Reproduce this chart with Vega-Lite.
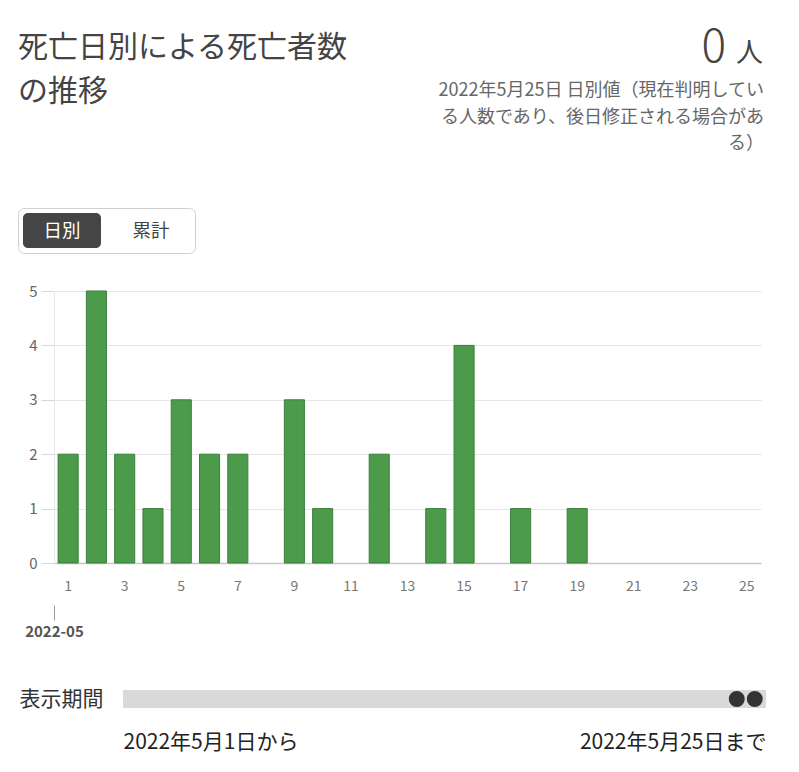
{
  "$schema": "https://vega.github.io/schema/vega-lite/v6.json",
  "background": "white",
  "padding": {"left": 17, "top": 0, "right": 0, "bottom": 20},
  "config": {"font": "Noto Sans CJK JP", "view": {"stroke": null}},
  "spacing": 30,
  "vconcat": [
    {
      "bounds": "flush",
      "spacing": 18,
      "vconcat": [
        {
          "width": 748,
          "height": 190,
          "data": {"values": [{"title": "死亡日別による死亡者数\nの推移", "count": 0, "unit": "人", "note": "2022年5月25日 日別値（現在判明してい\nる人数であり、後日修正される場合があ\nる）"}]},
          "layer": [
            {"mark": {"type": "text", "align": "left", "baseline": "alphabetic", "fontSize": 30, "color": "#444444", "lineBreak": "\n", "lineHeight": 44},
             "encoding": {"text": {"field": "title"}, "x": {"value": 0}, "y": {"value": 57}}},
            {"mark": {"type": "text", "align": "right", "baseline": "alphabetic", "fontSize": 46, "fontWeight": 300, "color": "#444444"},
             "encoding": {"text": {"field": "count"}, "x": {"value": 708}, "y": {"value": 62}}},
            {"mark": {"type": "text", "align": "right", "baseline": "alphabetic", "fontSize": 27, "color": "#444444"},
             "encoding": {"text": {"field": "unit"}, "x": {"value": 745}, "y": {"value": 62}}},
            {"mark": {"type": "text", "align": "right", "baseline": "alphabetic", "fontSize": 18, "color": "#666666", "lineBreak": "\n", "lineHeight": 26.5},
             "encoding": {"text": {"field": "note"}, "x": {"value": 746}, "y": {"value": 96}}}
          ]
        },
        {
          "width": 177,
          "height": 45,
          "view": {"stroke": "#cfcfcf", "strokeWidth": 1, "cornerRadius": 6},
          "data": {"values": [{"mode": "日別", "state": "on"}, {"mode": "累計", "state": "off"}]},
          "encoding": {"x": {"field": "mode", "type": "nominal", "sort": ["日別", "累計"], "scale": {"paddingInner": 0.124, "paddingOuter": 0.056}, "axis": null}},
          "layer": [
            {"transform": [{"filter": "datum.state == 'on'"}],
             "mark": {"type": "bar", "color": "#454545", "cornerRadius": 5},
             "encoding": {"y": {"value": 5}, "y2": {"value": 40}}},
            {"mark": {"type": "text", "fontSize": 18.5},
             "encoding": {"text": {"field": "mode"}, "y": {"value": 22.5},
                          "color": {"field": "state", "type": "nominal", "scale": {"domain": ["on", "off"], "range": ["#ffffff", "#444444"]}, "legend": null}}}
          ]
        }
      ]
    },
    {
      "bounds": "flush",
      "spacing": 127,
      "vconcat": [
        {
          "width": 743,
          "height": 272,
          "data": {"values": [
            {"date": "2022-05-01", "day": 1, "deaths": 2},
            {"date": "2022-05-02", "day": 2, "deaths": 5},
            {"date": "2022-05-03", "day": 3, "deaths": 2},
            {"date": "2022-05-04", "day": 4, "deaths": 1},
            {"date": "2022-05-05", "day": 5, "deaths": 3},
            {"date": "2022-05-06", "day": 6, "deaths": 2},
            {"date": "2022-05-07", "day": 7, "deaths": 2},
            {"date": "2022-05-08", "day": 8, "deaths": 0},
            {"date": "2022-05-09", "day": 9, "deaths": 3},
            {"date": "2022-05-10", "day": 10, "deaths": 1},
            {"date": "2022-05-11", "day": 11, "deaths": 0},
            {"date": "2022-05-12", "day": 12, "deaths": 2},
            {"date": "2022-05-13", "day": 13, "deaths": 0},
            {"date": "2022-05-14", "day": 14, "deaths": 1},
            {"date": "2022-05-15", "day": 15, "deaths": 4},
            {"date": "2022-05-16", "day": 16, "deaths": 0},
            {"date": "2022-05-17", "day": 17, "deaths": 1},
            {"date": "2022-05-18", "day": 18, "deaths": 0},
            {"date": "2022-05-19", "day": 19, "deaths": 1},
            {"date": "2022-05-20", "day": 20, "deaths": 0},
            {"date": "2022-05-21", "day": 21, "deaths": 0},
            {"date": "2022-05-22", "day": 22, "deaths": 0},
            {"date": "2022-05-23", "day": 23, "deaths": 0},
            {"date": "2022-05-24", "day": 24, "deaths": 0},
            {"date": "2022-05-25", "day": 25, "deaths": 0}
          ]},
          "layer": [
            {
              "mark": {"type": "bar", "color": "#4b9b4b", "stroke": "#3c7f3c", "strokeWidth": 1},
              "encoding": {
                "x": {"field": "day", "type": "ordinal", "scale": {"range": [36, 743], "paddingInner": 0.29, "paddingOuter": 0.145},
                      "axis": {"values": [1, 3, 5, 7, 9, 11, 13, 15, 17, 19, 21, 23, 25], "labelAngle": 0, "ticks": false, "labelPadding": 16, "labelFontSize": 14, "labelColor": "#777777", "domainColor": "#c8c8c8", "domainWidth": 1.5, "title": null}},
                "y": {"field": "deaths", "type": "quantitative", "scale": {"domain": [0, 5]},
                      "axis": {"values": [0, 1, 2, 3, 4, 5], "offset": -36, "title": null, "gridColor": "#e6e6e6", "domainColor": "#e6e6e6", "tickColor": "#d6d6d6", "tickSize": 13, "labelPadding": 4, "labelFontSize": 15, "labelColor": "#666666"}},
                "strokeOpacity": {"condition": {"test": "datum.deaths == 0", "value": 0}, "value": 1}
              }
            },
            {
              "mark": {"type": "point", "opacity": 0},
              "encoding": {
                "x": {"field": "date", "type": "temporal",
                      "scale": {"type": "utc", "range": [36, 743], "domain": [{"year": 2022, "month": 5, "date": 1, "utc": true}, {"year": 2022, "month": 5, "date": 26, "utc": true}]},
                      "axis": {"orient": "bottom", "values": [{"year": 2022, "month": 5, "date": 1, "utc": true}], "format": "%Y-%m", "labelFlush": false, "offset": 42, "tickSize": 15, "tickColor": "#999999", "domain": false, "grid": false, "labelFontSize": 15, "labelFontWeight": "bold", "labelColor": "#555555", "labelPadding": 4, "title": null}}
              }
            }
          ],
          "resolve": {"scale": {"x": "independent"}, "axis": {"x": "independent"}}
        },
        {
          "width": 748,
          "height": 18,
          "data": {"values": [{"period": "表示期間", "date": "2022-05-01"}, {"period": "表示期間", "date": "2022-05-25"}]},
          "encoding": {
            "y": {"field": "period", "type": "nominal",
                  "axis": {"title": null, "offset": -105, "ticks": false, "domain": false, "labelFontSize": 21, "labelColor": "#333333", "labelPadding": 20}},
            "x": {"field": "date", "type": "temporal",
                  "scale": {"type": "utc", "range": [105, 748], "domain": [{"year": 2020, "month": 2, "date": 2, "utc": true}, {"year": 2022, "month": 6, "date": 9, "utc": true}]},
                  "axis": {"title": null, "values": [{"year": 2020, "month": 2, "date": 2, "utc": true}, {"year": 2022, "month": 6, "date": 9, "utc": true}], "labelFlush": true, "labelOverlap": false, "labelLimit": 400,
                           "labelExpr": "datum.index == 0 ? '2022年5月1日から' : '2022年5月25日まで'", "ticks": false, "domain": false, "grid": false, "labelFontSize": 21, "labelColor": "#222222", "labelPadding": 23}}
          },
          "layer": [
            {"mark": {"type": "rect", "color": "#d9d9d9"},
             "encoding": {"x": {"datum": {"year": 2020, "month": 2, "date": 2, "utc": true}, "type": "temporal"}, "x2": {"datum": {"year": 2022, "month": 6, "date": 9, "utc": true}}, "y": null}},
            {"mark": {"type": "circle", "color": "#333333", "size": 254, "opacity": 1}}
          ]
        }
      ]
    }
  ]
}
